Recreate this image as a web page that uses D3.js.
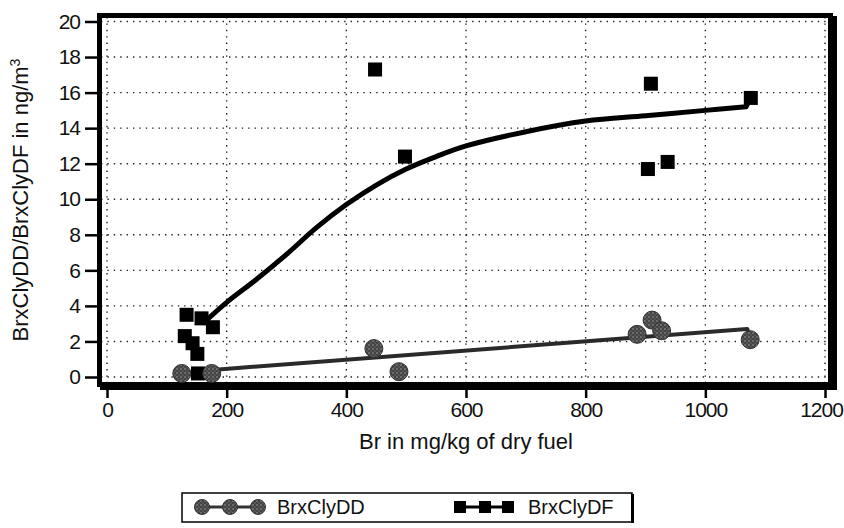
<!DOCTYPE html>
<html>
<head>
<meta charset="utf-8">
<script src="https://cdn.jsdelivr.net/npm/d3@7"></script>
<style>
  body { margin: 0; background: #fff; }
  svg { display: block; }
  text { font-family: "Liberation Sans", Arial, Helvetica, sans-serif; fill: #111; }
</style>
</head>
<body>
<div id="chart"></div>
<script>
// Measured congeners (x = Br in fuel, y = concentration)
const ddX = [125, 175, 446, 488, 886, 911, 927, 1075];
const ddY = [0.2, 0.2, 1.6, 0.3, 2.4, 3.2, 2.6, 2.1];
const dfX = [133, 130, 143, 151, 152, 158, 177, 448, 498, 904, 909, 937, 1076];
const dfY = [3.5, 2.3, 1.9, 1.3, 0.2, 3.3, 2.8, 17.3, 12.4, 11.7, 16.5, 12.1, 15.7];

// Trend lines (the last point of each is the hook onto the end marker)
const ddFitX = [150, 1070, 1075];
const ddFitY = [0.33, 2.7, 2.2];
const dfFitX = [160, 200, 250, 300, 350, 400, 450, 500, 550, 600, 700, 800, 900, 1000, 1068, 1076];
const dfFitY = [3.0, 4.2, 5.5, 6.9, 8.4, 9.7, 10.8, 11.7, 12.4, 13.0, 13.8, 14.4, 14.7, 15.0, 15.2, 15.7];

const xTicks = [0, 200, 400, 600, 800, 1000, 1200];
const yTicks = [0, 2, 4, 6, 8, 10, 12, 14, 16, 18, 20];
const seriesNames = ['BrxClyDD', 'BrxClyDF'];

const width = 844, height = 528;
const frame = { left: 97, right: 833, top: 13, bottom: 387 };

const x = d3.scaleLinear().domain([0, 1200]).range([107, 825]);
const y = d3.scaleLinear().domain([0, 20]).range([377, 21.5]);

const svg = d3.select('#chart').append('svg')
  .attr('width', width)
  .attr('height', height);

svg.append('rect').attr('width', width).attr('height', height).attr('fill', '#fff');

// speckled fill for the round markers
const pat = svg.append('defs').append('pattern')
  .attr('id', 'speck')
  .attr('width', 4).attr('height', 4)
  .attr('patternUnits', 'userSpaceOnUse');
pat.append('rect').attr('width', 4).attr('height', 4).attr('fill', '#444');
pat.append('circle').attr('cx', 1).attr('cy', 1).attr('r', 0.7).attr('fill', '#b0b0b0');
pat.append('circle').attr('cx', 3).attr('cy', 3).attr('r', 0.6).attr('fill', '#8a8a8a');

// dotted grid
const grid = svg.append('g')
  .attr('stroke', '#222')
  .attr('stroke-width', 1.4)
  .attr('stroke-dasharray', '1.4,5');
grid.selectAll('.gx').data(xTicks).enter().append('line')
  .attr('x1', d => x(d)).attr('x2', d => x(d))
  .attr('y1', frame.top + 4).attr('y2', frame.bottom - 3);
grid.selectAll('.gy').data(yTicks).enter().append('line')
  .attr('x1', frame.left + 4).attr('x2', frame.right - 3)
  .attr('y1', d => y(d)).attr('y2', d => y(d));

// heavy frame with a shadow on the bottom and right
svg.append('rect')
  .attr('x', frame.left + 2.5).attr('y', frame.top + 2.5)
  .attr('width', frame.right - frame.left - 5)
  .attr('height', frame.bottom - frame.top - 5)
  .attr('fill', 'none').attr('stroke', '#000').attr('stroke-width', 5);
svg.append('rect')
  .attr('x', frame.left + 3).attr('y', frame.bottom - 1)
  .attr('width', frame.right - frame.left + 1).attr('height', 4)
  .attr('fill', '#000');
svg.append('rect')
  .attr('x', frame.right - 1).attr('y', frame.top + 3)
  .attr('width', 5).attr('height', frame.bottom - frame.top)
  .attr('fill', '#000');

// axes
const yAxis = svg.append('g')
  .attr('transform', `translate(${frame.left},0)`)
  .call(d3.axisLeft(y).tickValues(yTicks).tickFormat(d3.format('d')).tickSize(12).tickPadding(5));
const xAxis = svg.append('g')
  .attr('transform', `translate(0,${frame.bottom + 2})`)
  .call(d3.axisBottom(x).tickValues(xTicks).tickFormat(d3.format('d')).tickSize(9).tickPadding(4));
[xAxis, yAxis].forEach(g => {
  g.select('.domain').remove();
  g.selectAll('.tick line').attr('stroke', '#000').attr('stroke-width', 2.5);
  g.selectAll('.tick text')
    .attr('fill', '#111')
    .style('font-size', '21px')
    .style('letter-spacing', '-1px')
    .style('font-family', '"Liberation Sans", Arial, sans-serif');
});
// keep the last x label inside the page
xAxis.selectAll('.tick text').filter(d => d === 1200).attr('dx', -4);

// axis titles
svg.append('text')
  .attr('x', 466).attr('y', 449)
  .attr('text-anchor', 'middle')
  .style('font-size', '22px')
  .text('Br in mg/kg of dry fuel');

const yTitle = svg.append('text')
  .attr('transform', 'translate(28,200) rotate(-90)')
  .attr('text-anchor', 'middle')
  .style('font-size', '22px');
yTitle.append('tspan').text('BrxClyDD/BrxClyDF in ng/m');
yTitle.append('tspan').attr('dy', -8).style('font-size', '14px').text('3');

// trend lines
const pts = (xs, ys) => xs.map((v, i) => [v, ys[i]]);
const straight = d3.line().x(d => x(d[0])).y(d => y(d[1]));
const smooth = d3.line().x(d => x(d[0])).y(d => y(d[1])).curve(d3.curveCatmullRom);

svg.append('path')
  .datum(pts(ddFitX, ddFitY))
  .attr('d', straight)
  .attr('fill', 'none').attr('stroke', '#2a2a2a').attr('stroke-width', 4)
  .attr('stroke-linejoin', 'round');

const dfFit = pts(dfFitX, dfFitY);
const dfEnd = dfFit[dfFit.length - 1];
svg.append('path')
  .attr('d', smooth(dfFit.slice(0, -1)) + 'L' + x(dfEnd[0]) + ',' + y(dfEnd[1]))
  .attr('fill', 'none').attr('stroke', '#000').attr('stroke-width', 5)
  .attr('stroke-linejoin', 'round');

// markers
const sq = 14;
svg.append('g').selectAll('rect')
  .data(pts(dfX, dfY))
  .enter().append('rect')
  .attr('x', d => x(d[0]) - sq / 2).attr('y', d => y(d[1]) - sq / 2)
  .attr('width', sq).attr('height', sq)
  .attr('fill', '#000');

svg.append('g').selectAll('circle')
  .data(pts(ddX, ddY))
  .enter().append('circle')
  .attr('cx', d => x(d[0])).attr('cy', d => y(d[1]))
  .attr('r', 9)
  .attr('fill', 'url(#speck)')
  .attr('stroke', '#333').attr('stroke-width', 1);

// legend
const lg = svg.append('g');
lg.append('rect')
  .attr('x', 182).attr('y', 493).attr('width', 450).attr('height', 29)
  .attr('fill', '#fff').attr('stroke', '#000').attr('stroke-width', 1.5);
lg.append('rect').attr('x', 631).attr('y', 494).attr('width', 3).attr('height', 29).attr('fill', '#000');

const ddKey = [202, 230, 258];
lg.append('line').attr('x1', ddKey[0]).attr('x2', ddKey[2]).attr('y1', 507).attr('y2', 507)
  .attr('stroke', '#333').attr('stroke-width', 3);
lg.selectAll('.kc').data(ddKey).enter().append('circle')
  .attr('cx', d => d).attr('cy', 507).attr('r', 7.5)
  .attr('fill', 'url(#speck)').attr('stroke', '#333');
lg.append('text').attr('x', 277).attr('y', 514).style('font-size', '20px').text(seriesNames[0]);

const dfKey = [460, 485, 508];
lg.append('line').attr('x1', dfKey[0]).attr('x2', dfKey[2]).attr('y1', 507).attr('y2', 507)
  .attr('stroke', '#000').attr('stroke-width', 3);
lg.selectAll('.ks').data(dfKey).enter().append('rect')
  .attr('x', d => d - 6).attr('y', 501).attr('width', 12).attr('height', 12)
  .attr('fill', '#000');
lg.append('text').attr('x', 528).attr('y', 514).style('font-size', '20px').text(seriesNames[1]);
</script>
</body>
</html>
